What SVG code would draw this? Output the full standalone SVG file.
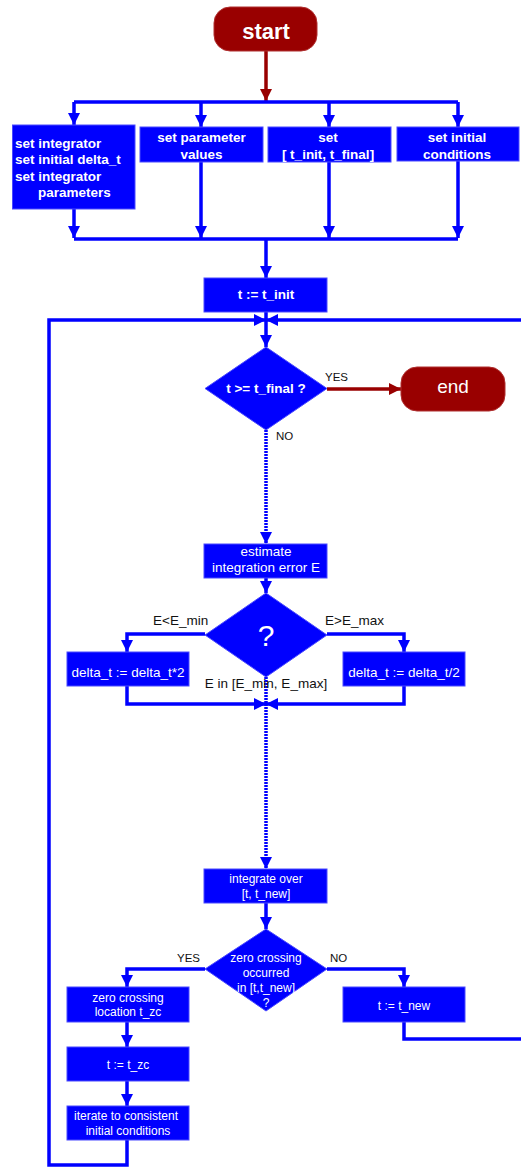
<svg xmlns="http://www.w3.org/2000/svg" width="521" height="1167" viewBox="0 0 521 1167">
<style>
.box{fill:#0000ff;stroke:#4a4aff;stroke-width:1}
.term{fill:#990000;stroke:#b03030;stroke-width:1}
.c{fill:none;stroke:#0000ff;stroke-width:3.5;stroke-linejoin:miter}
.cr{fill:none;stroke:#990000;stroke-width:3.5}
.dot{stroke-dasharray:2 1}
.tb{font-family:"Liberation Sans",Arial,sans-serif;font-weight:bold;font-size:13.5px;fill:#fff}
.tr{font-family:"Liberation Sans",Arial,sans-serif;font-size:13.5px;fill:#fff}
.ts{font-family:"Liberation Sans",Arial,sans-serif;font-size:12px;fill:#fff}
.lb{font-family:"Liberation Sans",Arial,sans-serif;font-size:13.5px;fill:#111}
.ls{font-family:"Liberation Sans",Arial,sans-serif;font-size:11.5px;fill:#111}
.m{text-anchor:middle}
</style>
<defs>
<marker id="ab" markerUnits="userSpaceOnUse" markerWidth="12" markerHeight="12" refX="12" refY="6" orient="auto"><path d="M0,0 L12,6 L0,12 z" fill="#0000ff"/></marker>
<marker id="ar" markerUnits="userSpaceOnUse" markerWidth="12" markerHeight="12" refX="12" refY="6" orient="auto"><path d="M0,0 L12,6 L0,12 z" fill="#990000"/></marker>
</defs>

<g id="connectors">
<path class="cr" d="M266,51 V101" marker-end="url(#ar)"/>
<path class="c" d="M74,102 H458"/>
<path class="c" d="M74,102 V125" marker-end="url(#ab)"/>
<path class="c" d="M201,102 V127" marker-end="url(#ab)"/>
<path class="c" d="M329,102 V127" marker-end="url(#ab)"/>
<path class="c" d="M458,102 V127" marker-end="url(#ab)"/>
<path class="c" d="M74,209 V238" marker-end="url(#ab)"/>
<path class="c" d="M201,162 V238" marker-end="url(#ab)"/>
<path class="c" d="M329,162 V238" marker-end="url(#ab)"/>
<path class="c" d="M458,161 V238" marker-end="url(#ab)"/>
<path class="c" d="M74,239 H458"/>
<path class="c" d="M266,239 V278" marker-end="url(#ab)"/>
<path class="c" d="M266,312 V347" marker-end="url(#ab)"/>
<path class="c" d="M127,1140 V1165 H49 V320 H266" marker-end="url(#ab)"/>
<path class="c" d="M521,320 H266" marker-end="url(#ab)"/>
<path class="cr" d="M327,389 H401" marker-end="url(#ar)"/>
<path class="c dot" d="M266,430 V544" marker-end="url(#ab)"/>
<path class="c" d="M266,578 V593" marker-end="url(#ab)"/>
<path class="c" d="M205,634 H127 V652" marker-end="url(#ab)"/>
<path class="c" d="M327,634 H404 V652" marker-end="url(#ab)"/>
<path class="c" d="M127,686 V704 H266" marker-end="url(#ab)"/>
<path class="c" d="M404,686 V704 H266" marker-end="url(#ab)"/>
<path class="c dot" d="M266,677 V869" marker-end="url(#ab)"/>
<path class="c" d="M266,903 V929" marker-end="url(#ab)"/>
<path class="c" d="M205,969 H127 V987" marker-end="url(#ab)"/>
<path class="c" d="M327,969 H404 V987" marker-end="url(#ab)"/>
<path class="c" d="M127,1022 V1047" marker-end="url(#ab)"/>
<path class="c" d="M127,1081 V1106" marker-end="url(#ab)"/>
<path class="c" d="M404,1022 V1039 H521"/>
</g>

<g id="labels">
<text class="ls" x="325" y="381">YES</text>
<text class="ls" x="276" y="440">NO</text>
<text class="lb" x="153" y="625">E&lt;E_min</text>
<text class="lb" x="325" y="625">E&gt;E_max</text>
<text class="lb m" x="266" y="688">E in [E_min, E_max]</text>
<text class="ls" x="177" y="962">YES</text>
<text class="ls" x="330" y="962">NO</text>
</g>

<g id="start"><rect class="term" x="214" y="7" width="103" height="44" rx="16"/><text class="tb m" x="266" y="38.5" style="font-size:22px">start</text></g>

<g id="set_integrator"><rect class="box" x="12.5" y="125" width="122.5" height="84"/>
<text class="tb" x="15" y="147.5">set integrator</text>
<text class="tb" x="15" y="164">set initial delta_t</text>
<text class="tb" x="15" y="180.5">set integrator</text>
<text class="tb" x="38" y="197">parameters</text></g>

<g id="set_parameters"><rect class="box" x="140" y="127" width="123" height="35"/>
<text class="tb m" x="201.5" y="142">set parameter</text>
<text class="tb m" x="201.5" y="158.5">values</text></g>

<g id="set_interval"><rect class="box" x="268" y="127" width="123" height="35"/>
<text class="tb m" x="328" y="142">set</text>
<text class="tb m" x="328" y="158.5">[ t_init, t_final]</text></g>

<g id="set_initial"><rect class="box" x="397" y="127" width="122" height="34"/>
<text class="tb m" x="457" y="142">set initial</text>
<text class="tb m" x="457" y="158.5">conditions</text></g>

<g id="t_init"><rect class="box" x="204" y="278" width="123" height="34"/>
<text class="tb m" x="266" y="299">t := t_init</text></g>

<g id="check_final"><path class="box" d="M266,347 L327,388.5 L266,430 L205,388.5 z"/>
<text class="tb m" x="266" y="393">t &gt;= t_final ?</text></g>

<g id="end"><rect class="term" x="401" y="367" width="104" height="44" rx="16"/>
<text class="tr m" x="453" y="393" style="font-size:19px">end</text></g>

<g id="estimate"><rect class="box" x="204" y="544" width="123" height="34"/>
<text class="tr m" x="266" y="556">estimate</text>
<text class="tr m" x="266" y="572">integration error E</text></g>

<g id="error_check"><path class="box" d="M266,593 L327,635 L266,677 L205,635 z"/>
<text class="tr m" x="266" y="646" style="font-size:30px">?</text></g>

<g id="double_dt"><rect class="box" x="67" y="652" width="122" height="34"/>
<text class="tr m" x="128" y="676.5">delta_t := delta_t*2</text></g>

<g id="half_dt"><rect class="box" x="343" y="652" width="122" height="34"/>
<text class="tr m" x="404" y="676.5">delta_t := delta_t/2</text></g>

<g id="integrate"><rect class="box" x="204" y="869" width="123" height="34"/>
<text class="ts m" x="266" y="883">integrate over</text>
<text class="ts m" x="266" y="898">[t, t_new]</text></g>

<g id="zc_check"><path class="box" d="M266,929 L327,969 L266,1011 L205,969 z"/>
<text class="ts m" x="266" y="962">zero crossing</text>
<text class="ts m" x="266" y="977">occurred</text>
<text class="ts m" x="266" y="992">in [t,t_new]</text>
<text class="ts m" x="266" y="1007">?</text></g>

<g id="zc_locate"><rect class="box" x="67" y="987" width="122" height="35"/>
<text class="ts m" x="128" y="1002">zero crossing</text>
<text class="ts m" x="128" y="1016">location t_zc</text></g>

<g id="t_new"><rect class="box" x="343" y="987" width="122" height="35"/>
<text class="ts m" x="404" y="1010">t := t_new</text></g>

<g id="t_zc"><rect class="box" x="67" y="1047" width="122" height="34"/>
<text class="ts m" x="128" y="1069">t := t_zc</text></g>

<g id="iterate"><rect class="box" x="67" y="1106" width="122" height="34"/>
<text class="ts m" x="126" y="1120">iterate to consistent</text>
<text class="ts m" x="128" y="1135">initial conditions</text></g>
</svg>
